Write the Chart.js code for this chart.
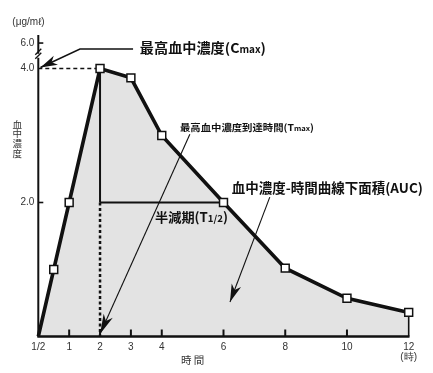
<!DOCTYPE html>
<html><head><meta charset="utf-8">
<script src="https://cdn.jsdelivr.net/npm/chart.js@4"></script>
<style>html,body{margin:0;padding:0;background:#fff;}#wrap{width:433px;height:373px;}</style>
</head><body><div id="wrap"><canvas id="c" width="433" height="373"></canvas></div>
<script>
// ---- data ----
const hours = [0, 0.5, 1, 2, 3, 4, 6, 8, 10, 12];
const concentration = [0, 1.0, 2.0, 4.0, 3.86, 3.0, 2.0, 1.02, 0.57, 0.36];
const xTickValues = [0, 1, 2, 3, 4, 6, 8, 10, 12];
const xTickLabels = ['1/2', '1', '2', '3', '4', '6', '8', '10', ['12', '(時)']];
const yTickValues = [2, 4, 4.38];
const yTickLabels = ['2.0', '4.0', '6.0'];
const unitLabel = '(μg/mℓ)';
const yTitle = '血中濃度';
const xTitle = '時 間';
const cmaxLabel = [['最高血中濃度(C', 'b'], ['max', 's'], [')', 'b']];
const tmaxLabel = [['最高血中濃度到達時間(T', 'b'], ['max', 's'], [')', 'b']];
const aucLabel = [['血中濃度-時間曲線下面積(AUC)', 'b']];
const halfLabel = [['半減期(T', 'b'], ['1/2', 's'], [')', 'b']];
const Cmax = 4.0, Tmax = 2, halfConc = 2.0, halfTime = 6;

const CJK = '"Noto Sans CJK JP", "Liberation Sans", sans-serif';
const INK = '#111';

function rich(ctx, segs, big, small, x, y, targetW) {
  const f = t => t === 'b' ? 'bold ' + big + 'px ' + CJK : 'bold ' + small + 'px ' + CJK;
  let w = 0;
  segs.forEach(s => { ctx.font = f(s[1]); w += ctx.measureText(s[0]).width; });
  const k = targetW / w;
  ctx.save();
  ctx.translate(x, y); ctx.scale(k, 1);
  ctx.textBaseline = 'alphabetic'; ctx.textAlign = 'left'; ctx.fillStyle = INK;
  let cx = 0;
  segs.forEach(s => { ctx.font = f(s[1]); ctx.fillText(s[0], cx, 0); cx += ctx.measureText(s[0]).width; });
  ctx.restore();
}
function line(ctx, pts, lw, dash) {
  ctx.save(); ctx.strokeStyle = INK; ctx.lineWidth = lw; ctx.setLineDash(dash || []);
  ctx.beginPath(); ctx.moveTo(pts[0][0], pts[0][1]);
  for (let i = 1; i < pts.length; i++) ctx.lineTo(pts[i][0], pts[i][1]);
  ctx.stroke(); ctx.restore();
}
function arrowHead(ctx, from, tip, len, wid) {
  const dx = tip[0] - from[0], dy = tip[1] - from[1];
  const d = Math.hypot(dx, dy), ux = dx / d, uy = dy / d, px = -uy, py = ux;
  const bx = tip[0] - ux * len, by = tip[1] - uy * len;
  const nx = tip[0] - ux * len * 0.72, ny = tip[1] - uy * len * 0.72;
  ctx.save(); ctx.fillStyle = INK; ctx.beginPath();
  ctx.moveTo(tip[0], tip[1]);
  ctx.lineTo(bx + px * wid / 2, by + py * wid / 2);
  ctx.lineTo(nx, ny);
  ctx.lineTo(bx - px * wid / 2, by - py * wid / 2);
  ctx.closePath(); ctx.fill(); ctx.restore();
}

const annot = {
  id: 'annot',
  beforeDatasetsDraw(chart) {
    const ctx = chart.ctx, xs = chart.scales.x, ys = chart.scales.y;
    const X = v => xs.getPixelForValue(v), Y = v => ys.getPixelForValue(v);
    // guides
    line(ctx, [[X(0), Y(Cmax)], [X(Tmax), Y(Cmax)]], 1.6, [4, 3]);
    line(ctx, [[X(Tmax), Y(Cmax)], [X(Tmax), Y(halfConc)]], 2);
    line(ctx, [[X(Tmax), Y(halfConc)], [X(Tmax), Y(0)]], 2.5, [3, 2.5]);
    line(ctx, [[X(Tmax), Y(halfConc)], [X(halfTime), Y(halfConc)]], 2);
    const last = hours.length - 1;
    line(ctx, [[X(hours[last]), Y(0)], [X(hours[last]), Y(concentration[last])]], 1.6);
  },
  afterDatasetsDraw(chart) {
    const ctx = chart.ctx, xs = chart.scales.x, ys = chart.scales.y, a = chart.chartArea;
    const X = v => xs.getPixelForValue(v), Y = v => ys.getPixelForValue(v);
    // axes
    line(ctx, [[X(0), a.top], [X(0), Y(0)]], 2);
    line(ctx, [[X(0) - 1, Y(0)], [X(12) + 0.8, Y(0)]], 2.5);
    // x ticks (inward)
    xTickValues.forEach(v => { if (v > 0 && v < 12) line(ctx, [[X(v), Y(0)], [X(v), Y(0) - 7]], 2); });
    // y ticks
    [2, 4.38].forEach(v => line(ctx, [[X(0), Y(v)], [X(0) + 5, Y(v)]], 1.6));
    // axis break
    const yb = Y(4.19);
    ctx.save(); ctx.fillStyle = '#fff'; ctx.fillRect(X(0) - 2, yb - 2, 4, 4); ctx.restore();
    line(ctx, [[X(0) - 3, yb - 1], [X(0) + 3, yb - 7]], 1.3);
    line(ctx, [[X(0) - 3, yb + 3], [X(0) + 3, yb - 3]], 1.3);
    // Cmax leader
    const c1 = [X(3.07), Y(4.29)], c2 = [X(1.35), Y(4.29)], ct = [X(0.07), Y(4.015)];
    line(ctx, [c1, c2, ct], 1.5);
    arrowHead(ctx, c2, ct, 17, 10);
    // Tmax leader
    const t1 = [X(4.91), Y(3.02)], tt = [X(2.0), Y(0.037)];
    line(ctx, [t1, tt], 1.1);
    arrowHead(ctx, t1, tt, 20, 10);
    // AUC leader
    const u1 = [X(7.5), Y(2.08)], ut = [X(6.21), Y(0.515)];
    line(ctx, [u1, ut], 1.1);
    arrowHead(ctx, u1, ut, 18, 10);
    // annotation texts
    rich(ctx, cmaxLabel, 13.5, 9.5, X(3.29), Y(4.225), 126);
    rich(ctx, tmaxLabel, 9.5, 7, X(4.59), Y(3.06), 134);
    rich(ctx, aucLabel, 13.5, 10, X(6.27), Y(2.14), 191);
    rich(ctx, halfLabel, 13, 9.5, X(3.78), Y(1.71), 73);
    // axis titles
    ctx.save(); ctx.fillStyle = '#333'; ctx.textAlign = 'center'; ctx.textBaseline = 'middle';
    ctx.font = '9.5px ' + CJK;
    Array.from(yTitle).forEach((ch, i) => ctx.fillText(ch, X(0) - 21, Y(3.17) + i * 9.7));
    ctx.font = '10.5px ' + CJK;
    ctx.fillText(xTitle, X(5), Y(-0.35));
    ctx.textAlign = 'left';
    ctx.font = '10px "Liberation Sans", ' + CJK;
    ctx.fillText(unitLabel, X(0) - 26, Y(4.69));
    ctx.restore();
  }
};

new Chart(document.getElementById('c'), {
  type: 'line',
  data: {
    datasets: [{
      data: hours.map((h, i) => ({ x: h, y: concentration[i] })),
      borderColor: INK,
      borderWidth: 3.6,
      backgroundColor: '#e3e3e3',
      fill: 'origin',
      tension: 0,
      pointStyle: 'rect',
      pointRadius: hours.map((h, i) => i === 0 ? 0 : 5.6),
      pointBackgroundColor: '#fff',
      pointBorderColor: INK,
      pointBorderWidth: 1.5,
      clip: 8
    }]
  },
  options: {
    responsive: false,
    animation: false,
    devicePixelRatio: 1,
    layout: { padding: { top: 35, right: 24.3, left: 0, bottom: 0 } },
    plugins: { legend: { display: false }, tooltip: { enabled: false }, filler: { drawTime: 'beforeDatasetsDraw' } },
    scales: {
      x: {
        type: 'linear', min: 0, max: 12,
        afterBuildTicks: s => { s.ticks = xTickValues.map(v => ({ value: v })); },
        afterFit: s => { s.height = 36.5; },
        grid: { display: false, drawTicks: false },
        border: { display: false },
        ticks: {
          autoSkip: false, maxRotation: 0, padding: 5, color: '#333',
          font: { family: 'Liberation Sans', size: 10, lineHeight: 1.05 },
          callback: v => xTickLabels[xTickValues.indexOf(v)]
        }
      },
      y: {
        type: 'linear', min: 0, max: 4.5,
        afterBuildTicks: s => { s.ticks = yTickValues.map(v => ({ value: v })); },
        afterFit: s => { s.width = 38.3; },
        grid: { display: false, drawTicks: false },
        border: { display: false },
        ticks: {
          autoSkip: false, padding: 4, color: '#333',
          font: { family: 'Liberation Sans', size: 10 },
          callback: v => yTickLabels[yTickValues.indexOf(v)]
        }
      }
    }
  },
  plugins: [annot]
});
</script></body></html>
